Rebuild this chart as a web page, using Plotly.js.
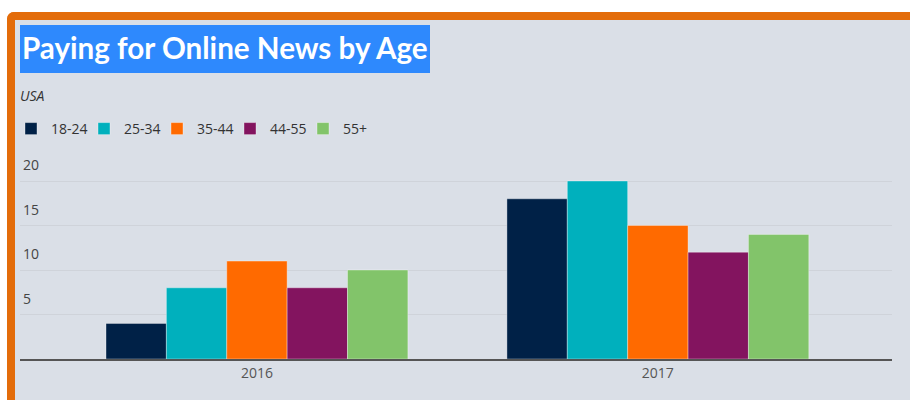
<!DOCTYPE html>
<html>
<head>
<meta charset="utf-8">
<script src="https://cdn.plot.ly/plotly-3.0.1.min.js"></script>
<style>
  html, body { margin: 0; padding: 0; background: #ffffff; width: 910px; height: 400px; overflow: hidden; }
  #frame { position: absolute; left: 7px; top: 12px; width: 1000px; height: 500px;
           border-top: 8px solid #e36c0a; border-left: 8px solid #e36c0a;
           border-top-left-radius: 7px; background: #dadfe7; }
  #chart { position: absolute; left: 0; top: 0; width: 910px; height: 400px; }
</style>
</head>
<body>
<div id="frame"></div>
<div id="chart"></div>
<script>
const years = ["2016", "2017"];
const groups = ["18-24", "25-34", "35-44", "44-55", "55+"];
const v1824 = [4, 18];
const v2534 = [8, 20];
const v3544 = [11, 15];
const v4455 = [8, 12];
const v55 = [10, 14];
const yTicks = [5, 10, 15, 20];
const colors = ["#002147", "#00b0bd", "#ff6a00", "#83145f", "#82c46a"];
const series = [v1824, v2534, v3544, v4455, v55];

const traces = groups.map((g, i) => ({
  type: "bar",
  name: g,
  x: years,
  y: series[i],
  marker: { color: colors[i], line: { color: "rgba(255,255,255,0.35)", width: 1 } },
  hoverinfo: "x+y+name"
}));

const W = 910, H = 400;
const L = 20, R = 18, T = 150, B = 41;
const plotW = W - L - R;
const plotH = H - T - B;
const py = (pix) => (H - B - pix) / plotH;   // page pixel -> paper y
const px = (pix) => (pix - L) / plotW;       // page pixel -> paper x

const layout = {
  width: W, height: H,
  margin: { l: L, r: R, t: T, b: B, pad: 0, autoexpand: false },
  paper_bgcolor: "rgba(0,0,0,0)",
  plot_bgcolor: "rgba(0,0,0,0)",
  font: { family: "'Open Sans', sans-serif", color: "#444", size: 14 },
  barmode: "group",
  bargap: 0.247,
  bargroupgap: 0,
  title: {
    text: "Paying for Online News by Age",
    font: { family: "Lato, sans-serif", size: 29.6, color: "#ffffff", weight: "bold" },
    xref: "container", yref: "container",
    x: 22 / W, xanchor: "left",
    y: 1 - 49 / H, yanchor: "middle",
    pad: { t: 0, b: 0, l: 0, r: 0 }
  },
  shapes: [{
    type: "rect", xref: "paper", yref: "paper", layer: "below",
    x0: 0, x1: px(430),
    y0: py(73), y1: py(25),
    fillcolor: "#2e89fd", line: { width: 0 }
  }],
  annotations: [{
    text: "USA", showarrow: false,
    xref: "paper", yref: "paper", x: px(18), xanchor: "left",
    y: py(95), yanchor: "middle",
    font: { family: "'Open Sans', sans-serif", size: 14, color: "#333", style: "italic" }
  }],
  showlegend: true,
  legend: {
    orientation: "h",
    xref: "container",
    x: 11 / W, xanchor: "left",
    y: py(129), yanchor: "middle",
    bgcolor: "rgba(0,0,0,0)",
    font: { family: "'Open Sans', sans-serif", size: 14, color: "#333" },
    entrywidth: 28, entrywidthmode: "pixels",
    traceorder: "normal",
    itemclick: false, itemdoubleclick: false
  },
  xaxis: {
    type: "category",
    range: [-0.591, 1.584],
    showline: true, linecolor: "#555", linewidth: 2,
    showgrid: false, zeroline: false, ticks: "",
    tickfont: { size: 14, color: "#555" },
    fixedrange: true
  },
  yaxis: {
    range: [0, plotH / 8.9],
    tickvals: yTicks,
    ticktext: yTicks.map(String),
    ticklabelposition: "inside top",
    ticklabelshift: -6,
    tickfont: { size: 14, color: "#444" },
    showgrid: true, gridcolor: "#cfd3da", gridwidth: 1,
    zeroline: false, showline: false, ticks: "",
    fixedrange: true
  }
};

Plotly.newPlot("chart", traces, layout, { displayModeBar: false });
</script>
</body>
</html>
